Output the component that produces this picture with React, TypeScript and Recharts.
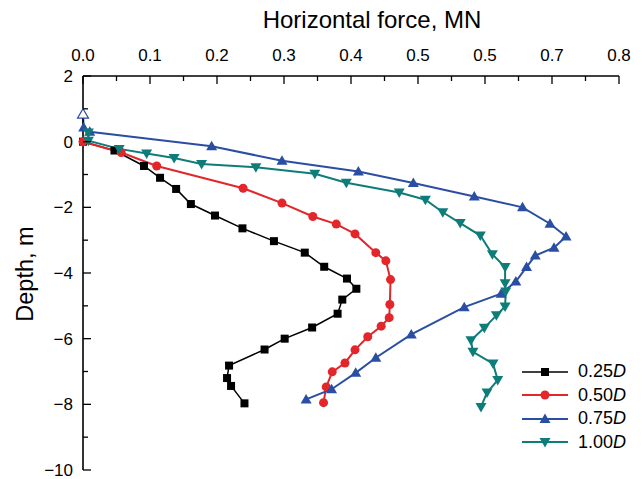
import { LineChart, Line, XAxis, YAxis, Label } from 'recharts';

const FONT = '"Liberation Sans", Arial, sans-serif';

// tick values and labels (the reference labels 0.6 as "0.5", kept as drawn)
const xTicks = [0, 0.05, 0.1, 0.15, 0.2, 0.25, 0.3, 0.35, 0.4, 0.45, 0.5, 0.55, 0.6, 0.65, 0.7, 0.75, 0.8];
const xTickLabels = ['0.0', '0.1', '0.2', '0.3', '0.4', '0.5', '0.5', '0.7', '0.8'];
const yTicks = [2, 1, 0, -1, -2, -3, -4, -5, -6, -7, -8, -9, -10];
const yTickLabels = ['2', '0', '\u22122', '\u22124', '\u22126', '\u22128', '\u221210'];

const seriesNames = ['0.25', '0.50', '0.75', '1.00'];

const force025 = [0, 0.047, 0.091, 0.115, 0.139, 0.161, 0.197, 0.238, 0.285, 0.331, 0.36, 0.394, 0.408, 0.387, 0.38, 0.342, 0.301, 0.271, 0.218, 0.215, 0.221, 0.241];
const depth025 = [0, -0.27, -0.74, -1.1, -1.44, -1.9, -2.25, -2.64, -3.03, -3.38, -3.81, -4.17, -4.48, -4.81, -5.24, -5.66, -6.0, -6.33, -6.82, -7.2, -7.44, -7.97];

const force050 = [0, 0.057, 0.11, 0.239, 0.297, 0.343, 0.378, 0.406, 0.437, 0.452, 0.459, 0.458, 0.457, 0.445, 0.425, 0.406, 0.391, 0.372, 0.363, 0.359];
const depth050 = [0, -0.33, -0.74, -1.42, -1.87, -2.28, -2.51, -2.81, -3.38, -3.63, -4.2, -4.96, -5.36, -5.62, -5.94, -6.34, -6.74, -7.01, -7.47, -7.95];

const force075 = [0, 0.001, 0.01, 0.192, 0.297, 0.411, 0.493, 0.584, 0.656, 0.697, 0.721, 0.703, 0.675, 0.662, 0.646, 0.624, 0.569, 0.49, 0.437, 0.407, 0.371, 0.333];
const depth075 = [0.84, 0.43, 0.3, -0.14, -0.58, -0.91, -1.26, -1.67, -2.0, -2.5, -2.89, -3.23, -3.47, -3.82, -4.26, -4.63, -5.04, -5.87, -6.58, -7.04, -7.54, -7.85];

const force100 = [0.008, 0.008, 0.054, 0.095, 0.136, 0.177, 0.258, 0.346, 0.393, 0.472, 0.511, 0.537, 0.563, 0.593, 0.611, 0.63, 0.63, 0.631, 0.63, 0.617, 0.599, 0.579, 0.582, 0.612, 0.619, 0.603, 0.594];
const depth100 = [0.28, 0.03, -0.22, -0.36, -0.5, -0.68, -0.78, -0.98, -1.25, -1.55, -1.77, -2.15, -2.48, -2.86, -3.43, -3.82, -4.31, -4.56, -5.02, -5.29, -5.67, -6.05, -6.4, -6.76, -7.26, -7.64, -8.08];

const toPoints = (xs: number[], ys: number[]) => xs.map((x, i) => ({ x, y: ys[i] }));

type Shape = 'square' | 'circle' | 'up' | 'down';

const series = [
	{ name: seriesNames[0], data: toPoints(force025, depth025), color: '#000000', shape: 'square' as Shape, width: 1.5 },
	{ name: seriesNames[1], data: toPoints(force050, depth050), color: '#e2262a', shape: 'circle' as Shape, width: 2 },
	{ name: seriesNames[2], data: toPoints(force075, depth075), color: '#2a4ea3', shape: 'up' as Shape, width: 2 },
	{ name: seriesNames[3], data: toPoints(force100, depth100), color: '#0e7c78', shape: 'down' as Shape, width: 2 },
];

function Marker({ cx, cy, shape, color, hollow }: { cx: number; cy: number; shape: Shape; color: string; hollow?: boolean }) {
	const paint = hollow ? { fill: '#fff', stroke: color, strokeWidth: 1.2 } : { fill: color };
	if (shape === 'square') {
		return <rect x={cx - 4} y={cy - 4} width={8} height={8} {...paint} />;
	}
	if (shape === 'circle') {
		return <circle cx={cx} cy={cy} r={4.5} {...paint} />;
	}
	if (shape === 'up') {
		return <polygon points={`${cx - 5.5},${cy + 4} ${cx + 5.5},${cy + 4} ${cx},${cy - 5.5}`} {...paint} />;
	}
	return <polygon points={`${cx - 5.5},${cy - 4} ${cx + 5.5},${cy - 4} ${cx},${cy + 5.5}`} {...paint} />;
}

// the topmost 0.75D marker is drawn open in the reference
const makeDot = (shape: Shape, color: string, hollowFirst = false) => (props: any) => {
	const { cx, cy, index } = props;
	if (cx == null || cy == null) return <g key={`e-${index}`} />;
	return <Marker key={`m-${index}`} cx={cx} cy={cy} shape={shape} color={color} hollow={hollowFirst && index === 0} />;
};

function XTick(props: any) {
	const { x, y, payload } = props;
	const k = Math.round(payload.value * 20);
	const major = k % 2 === 0;
	return (
		<g>
			<line x1={x} y1={y} x2={x} y2={y + (major ? 8 : 5)} stroke="#000" strokeWidth={1.3} />
			{major && (
				<text x={x} y={y - 15} textAnchor="middle" fontSize={17} fontFamily={FONT} fill="#000">
					{xTickLabels[k / 2]}
				</text>
			)}
		</g>
	);
}

function YTick(props: any) {
	const { x, y, payload } = props;
	const v = Math.round(payload.value);
	const major = v % 2 === 0;
	return (
		<g>
			<line x1={x} y1={y} x2={x + (major ? 8 : 5)} y2={y} stroke="#000" strokeWidth={1.3} />
			{major && (
				<text x={x - 10} y={y + 6} textAnchor="end" fontSize={17} fontFamily={FONT} fill="#000">
					{yTickLabels[(2 - v) / 2]}
				</text>
			)}
		</g>
	);
}

function LegendBox() {
	return (
		<div style={{ position: 'absolute', left: 522, top: 360, fontFamily: FONT, fontSize: 18, color: '#000' }}>
			{series.map((s) => (
				<div key={s.name} style={{ display: 'flex', alignItems: 'center', height: 23.5 }}>
					<svg width={46} height={14} style={{ display: 'block' }}>
						<line x1={0} y1={7} x2={46} y2={7} stroke={s.color} strokeWidth={s.width} />
						<Marker cx={23} cy={7} shape={s.shape} color={s.color} />
					</svg>
					<span style={{ marginLeft: 10 }}>
						{s.name}
						<i>D</i>
					</span>
				</div>
			))}
		</div>
	);
}

export default function App() {
	return (
		<div style={{ position: 'fixed', left: 0, top: 0, width: 642, height: 479, background: '#fff' }}>
			<LineChart width={642} height={479} margin={{ top: 36, right: 23, bottom: 9, left: 33 }}>
				<XAxis
					type="number"
					dataKey="x"
					orientation="top"
					height={40}
					domain={[0, 0.8]}
					ticks={xTicks}
					interval={0}
					tickSize={0}
					tickMargin={0}
					tickLine={false}
					tick={<XTick />}
					axisLine={{ stroke: '#000', strokeWidth: 1.6 }}
				>
					<Label
						content={() => (
							<text x={372} y={28} textAnchor="middle" fontSize={24} fontFamily={FONT} fill="#000">
								Horizontal force, MN
							</text>
						)}
					/>
				</XAxis>
				<YAxis
					type="number"
					dataKey="y"
					width={50}
					domain={[-10, 2]}
					ticks={yTicks}
					interval={0}
					tickSize={0}
					tickMargin={0}
					tickLine={false}
					tick={<YTick />}
					axisLine={{ stroke: '#000', strokeWidth: 1.6 }}
				>
					<Label
						content={() => (
							<text x={33} y={274} transform="rotate(-90 33 274)" textAnchor="middle" fontSize={23.5} fontFamily={FONT} fill="#000">
								Depth, m
							</text>
						)}
					/>
				</YAxis>
				{series.map((s) => (
					<Line
						key={s.name}
						data={s.data}
						dataKey="y"
						name={s.name}
						type="linear"
						stroke={s.color}
						strokeWidth={s.width}
						dot={makeDot(s.shape, s.color, s.shape === 'up')}
						activeDot={false}
						isAnimationActive={false}
					/>
				))}
			</LineChart>
			<LegendBox />
		</div>
	);
}
